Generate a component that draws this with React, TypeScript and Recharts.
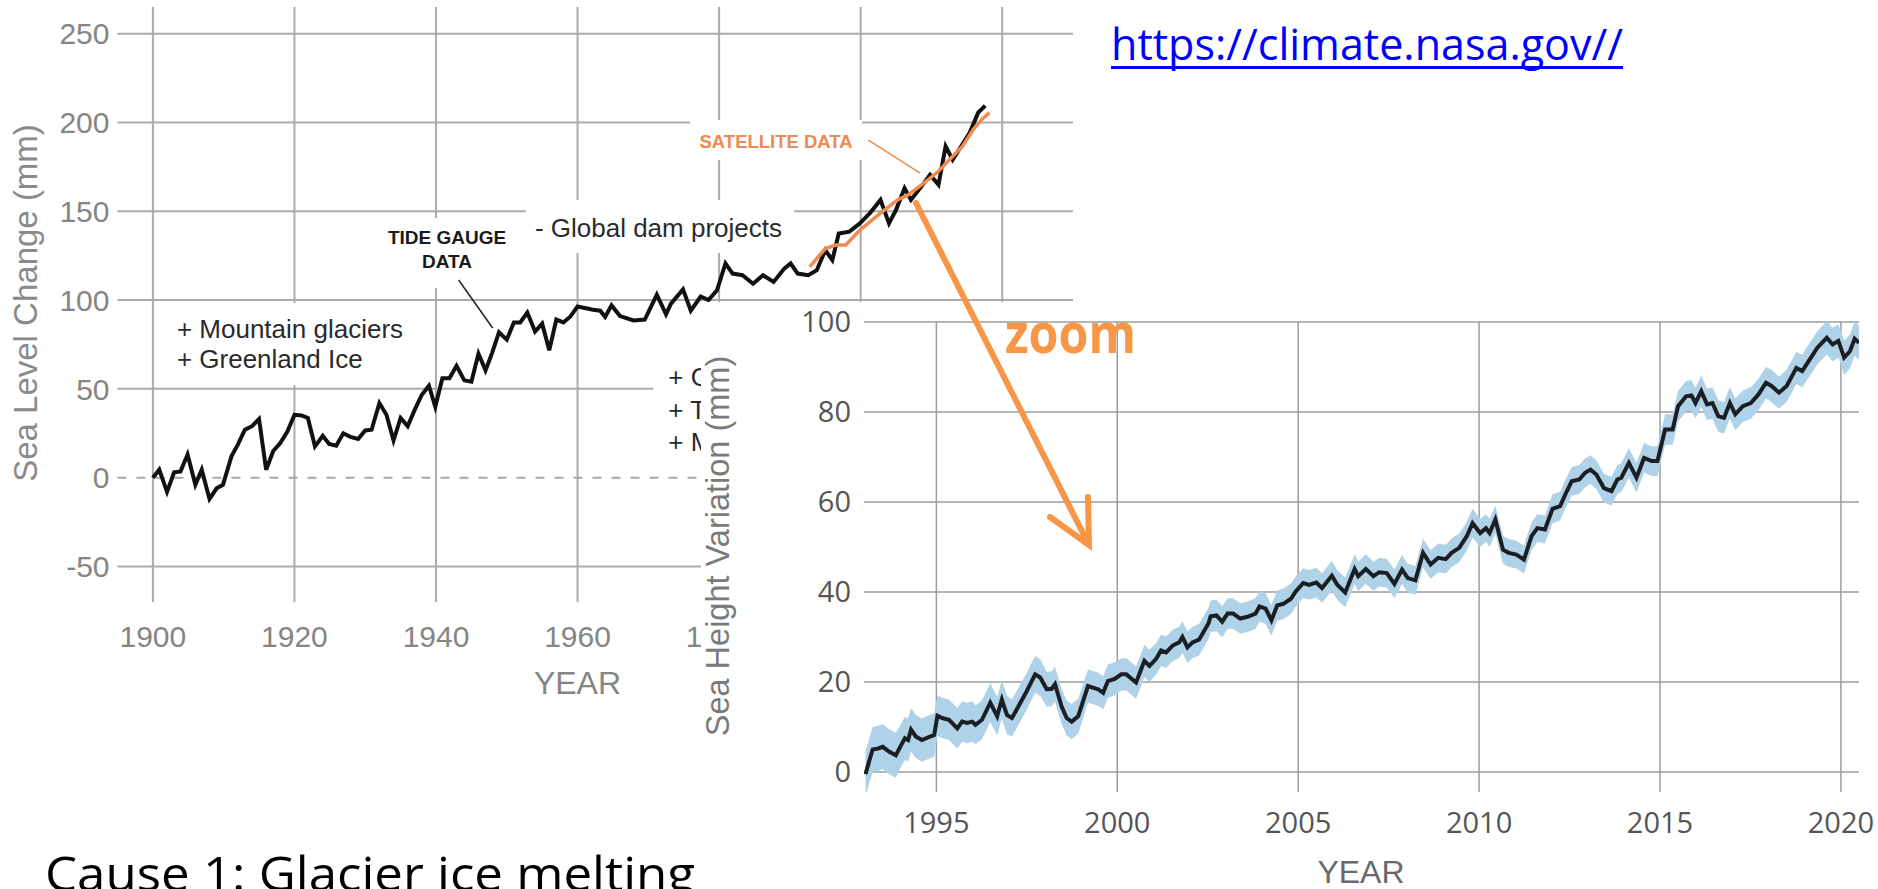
import {
  LineChart, ComposedChart, Line, Area, XAxis, YAxis, CartesianGrid,
  ReferenceArea, ReferenceLine,
} from "recharts";

// Tide gauge record (mm, relative to 1900)
const tideYears = [
  1900, 1900.9, 1902, 1903, 1903.9, 1904.9, 1906, 1906.9, 1908, 1909,
  1909.9, 1911.1, 1912, 1913, 1914, 1915, 1916, 1917, 1918, 1919,
  1920, 1921, 1921.9, 1922.9, 1924, 1924.9, 1925.9, 1926.9, 1927.9, 1929,
  1930, 1930.9, 1932, 1933, 1934, 1935, 1936, 1937, 1938, 1939,
  1939.9, 1940.9, 1941.9, 1942.9, 1944, 1945, 1946, 1947, 1947.9, 1948.9,
  1950, 1951, 1951.9, 1952.9, 1954, 1955, 1956, 1957, 1958, 1959,
  1960, 1961, 1962.2, 1963.2, 1963.9, 1964.8, 1966, 1967.9, 1969.5, 1971.2,
  1972.5, 1973.2, 1974.9, 1976, 1977.4, 1978.5, 1979.7, 1980.9, 1981.9, 1983.3,
  1984.8, 1986.2, 1987.7, 1989.2, 1990.1, 1991.1, 1992.6, 1993.8, 1995, 1996,
  1996.9, 1998.4, 1999.9, 2001.3, 2002.8, 2004, 2005, 2006.2, 2007.1, 2008.6,
  2009.8, 2011, 2012, 2013, 2014.2, 2015.4, 2016.6, 2017.6,
];
const tideMm = [
  0, 4.5, -8, 3, 3.5, 13, -4, 4.5, -12, -6,
  -4, 12, 18.6, 27, 29, 33, 4.5, 15, 19.5, 26,
  35.4, 35, 33.6, 17.6, 23.6, 19, 18, 25, 23, 21.8,
  26.6, 27, 42, 35.4, 21, 33.6, 29, 38.3, 46.7, 51.8,
  40, 56, 56, 63, 54.8, 54, 69.8, 60.4, 70, 81.8,
  77.7, 87.4, 87.4, 93, 82.3, 86.7, 71.7, 89, 87.4, 90.8,
  96.4, 95.5, 94.5, 94, 90.5, 97, 91, 88.5, 89, 103,
  92, 98, 106, 94, 102, 100, 105.5, 120.6, 114.9, 114,
  109.2, 114, 110.2, 117.7, 120.6, 114.9, 114, 116.8, 128.1, 122.5,
  137.5, 138.5, 143.2, 148.9, 156.4, 143.2, 150.8, 163, 156.4, 164,
  170.6, 164.9, 186.6, 179, 186.6, 194.2, 205.5, 209.5,
];

// Satellite trace on the long-term chart
const altYears = [1992.8, 1995, 1996.5, 1997.9, 1999.9, 2001.3, 2002.8, 2005.2, 2006.7, 2008.6, 2009.8, 2011, 2013, 2014.4, 2015.9, 2017.1, 2018.2];
const altMm = [118.7, 129, 131, 131, 139.4, 144, 148.9, 156.4, 159.2, 164.9, 168.7, 172.5, 181, 186.6, 196, 201.7, 205.5];

// Satellite sea height variation, 1993-2020 (mm)
const satYears = [
  1993.04, 1993.15, 1993.24, 1993.38, 1993.52, 1993.70, 1993.88, 1994.00, 1994.13, 1994.22,
  1994.30, 1994.43, 1994.60, 1994.84, 1994.94, 1995.03, 1995.16, 1995.35, 1995.58, 1995.71,
  1995.85, 1995.99, 1996.08, 1996.26, 1996.49, 1996.68, 1996.81, 1996.95, 1997.09, 1997.27,
  1997.50, 1997.73, 1997.87, 1998.05, 1998.19, 1998.28, 1998.46, 1998.60, 1998.74, 1998.92,
  1999.19, 1999.47, 1999.61, 1999.74, 1999.93, 2000.11, 2000.25, 2000.52, 2000.75, 2000.89,
  2001.07, 2001.21, 2001.35, 2001.53, 2001.71, 2001.80, 2001.94, 2002.08, 2002.26, 2002.52,
  2002.58, 2002.74, 2002.90, 2003.05, 2003.20, 2003.40, 2003.60, 2003.82, 2003.93, 2004.10,
  2004.26, 2004.42, 2004.60, 2004.80, 2004.93, 2005.14, 2005.30, 2005.50, 2005.66, 2005.93,
  2006.08, 2006.30, 2006.56, 2006.66, 2006.87, 2007.08, 2007.24, 2007.45, 2007.66, 2007.87,
  2008.03, 2008.24, 2008.45, 2008.66, 2008.87, 2009.08, 2009.24, 2009.45, 2009.66, 2009.82,
  2010.03, 2010.19, 2010.29, 2010.45, 2010.66, 2010.82, 2011.03, 2011.24, 2011.45, 2011.61,
  2011.82, 2012.03, 2012.24, 2012.40, 2012.56, 2012.77, 2012.93, 2013.08, 2013.24, 2013.45,
  2013.66, 2013.82, 2013.93, 2014.14, 2014.35, 2014.56, 2014.77, 2014.93, 2015.14, 2015.35,
  2015.50, 2015.72, 2015.87, 2015.98, 2016.14, 2016.30, 2016.45, 2016.61, 2016.77, 2016.93,
  2017.08, 2017.29, 2017.51, 2017.72, 2017.93, 2018.08, 2018.29, 2018.50, 2018.77, 2018.93,
  2019.14, 2019.35, 2019.61, 2019.77, 2019.93, 2020.09, 2020.25, 2020.38, 2020.5,
];
const satMm = [
  -0.5, 2.6, 5.0, 5.2, 5.6, 4.5, 3.7, 5.6, 7.5, 7.1,
  9.4, 7.9, 7.1, 7.9, 8.2, 12.5, 12.0, 11.6, 9.7, 11.2,
  10.9, 11.2, 10.5, 11.6, 15.4, 12.4, 16.1, 12.7, 12.0, 14.6,
  18.0, 21.7, 21.0, 18.4, 18.5, 19.5, 14.6, 12.0, 11.2, 12.4,
  19.1, 18.4, 17.6, 20.2, 20.7, 21.7, 21.7, 19.9, 24.7, 23.6,
  25.1, 27.0, 26.6, 28.1, 28.8, 30.0, 27.7, 28.8, 29.4, 33.0,
  34.6, 34.8, 33.4, 35.2, 35.2, 34.1, 34.5, 35.2, 36.8, 36.3,
  33.7, 37.0, 37.4, 38.5, 40.1, 42.0, 41.6, 42.1, 40.9, 43.6,
  41.6, 39.9, 45.1, 43.5, 45.1, 43.5, 44.4, 44.2, 41.8, 45.0,
  43.1, 42.6, 48.7, 46.1, 47.6, 47.3, 48.7, 49.8, 52.4, 55.3,
  53.1, 54.2, 53.1, 56.1, 49.4, 48.7, 48.3, 47.2, 52.4, 54.2,
  53.9, 58.5, 59.1, 62.0, 64.6, 65.0, 66.5, 67.2, 66.1, 63.1,
  62.4, 65.0, 65.4, 68.7, 65.4, 69.8, 69.1, 69.1, 76.1, 76.1,
  81.3, 83.5, 83.7, 82.0, 84.6, 81.7, 82.0, 79.1, 78.7, 82.0,
  79.5, 81.3, 82.0, 83.9, 86.5, 85.8, 84.3, 85.8, 89.8, 89.1,
  91.7, 94.3, 96.5, 95.0, 95.8, 92.1, 93.5, 96.3, 95.4,
];

// Uncertainty half-width per calendar year (mm)
const bandStartYear = 1993;
const bandHalfMm = [5.0, 4.8, 4.5, 4.3, 4.1, 3.9, 3.7, 3.6, 3.5, 3.5, 3.4, 3.4, 3.3, 3.3, 3.2, 3.2, 3.2, 3.1, 3.1, 3.2, 3.2, 3.3, 3.4, 3.5, 3.5, 3.6, 3.7, 3.8];

const longYearTicks = [1900, 1920, 1940, 1960, 1980, 2000, 2020];
const longMmTicks = [-50, 0, 50, 100, 150, 200, 250];
const longGridMm = [-50, 50, 100, 150, 200, 250];
const zoomYearTicks = [1995, 2000, 2005, 2010, 2015, 2020];
const zoomMmTicks = [0, 20, 40, 60, 80, 100];

const tideData = tideYears.map((year, i) => ({ year, mm: tideMm[i] }));
const altData = altYears.map((year, i) => ({ year, mm: altMm[i] }));
const zoomData = satYears.map((year, i) => {
  const half = bandHalfMm[Math.min(bandHalfMm.length - 1, Math.floor(year) - bandStartYear)];
  return { year, mm: satMm[i], band: [satMm[i] - half, satMm[i] + half] };
});

const HELV = "'Liberation Sans', Arial, sans-serif";
const OPEN = "'Open Sans', sans-serif";
const ORANGE = "#F79646";

const longTick = { fontFamily: HELV, fontSize: 30, fill: "#858585" };
const zoomTick = { fontFamily: OPEN, fontSize: 29, fill: "#555555" };

// text inside a white annotation box, offsets relative to the box corner
function boxText(lines: { text: string; dx: number; dy: number }[], style: any, anchor = "start") {
  return (props: any) => {
    const vb = props.viewBox || {};
    return (
      <g>
        {lines.map((l) => (
          <text key={l.text} x={vb.x + l.dx} y={vb.y + l.dy} textAnchor={anchor}
            dominantBaseline="central" style={style}>
            {l.text}
          </text>
        ))}
      </g>
    );
  };
}

function axisTitle(text: string, dx: number, dy: number, rotate: boolean, style: any) {
  return (props: any) => {
    const vb = props.viewBox || {};
    const x = vb.x + dx;
    const y = vb.y + dy;
    return (
      <text x={x} y={y} textAnchor="middle" dominantBaseline="central"
        transform={rotate ? `rotate(-90 ${x} ${y})` : undefined} style={style}>
        {text}
      </text>
    );
  };
}

const noteStyle = { fontFamily: HELV, fontSize: 26, fill: "#2a2a2a" };

function LongTermChart() {
  return (
    <LineChart width={1100} height={700} margin={{ top: 7, right: 27, bottom: 0, left: 0 }}>
      <CartesianGrid stroke="#ababab" strokeWidth={2} horizontalValues={longGridMm} verticalValues={longYearTicks} />
      <XAxis dataKey="year" type="number" domain={[1895, 2030]} ticks={longYearTicks} interval={0}
        allowDataOverflow axisLine={false} tickLine={false} tickSize={0} tickMargin={24} height={98}
        tick={longTick}
        label={axisTitle("YEAR", 460, 81, false, { fontFamily: HELV, fontSize: 32, fill: "#858585" })} />
      <YAxis type="number" domain={[-70, 265]} ticks={longMmTicks} interval={0} allowDataOverflow
        axisLine={false} tickLine={false} tickSize={0} tickMargin={8} width={117.5} tick={longTick}
        label={axisTitle("Sea Level Change (mm)", 25, 296, true, { fontFamily: HELV, fontSize: 33, fill: "#8a8a8a" })} />
      <ReferenceLine y={0} stroke="#a8a8a8" strokeWidth={2} strokeDasharray="9 10" />

      <ReferenceArea x1={1932.8} x2={1950.4} y1={106.8} y2={146.2} fill="#fff" fillOpacity={1} stroke="none"
        label={boxText([{ text: "TIDE GAUGE", dx: 62, dy: 19 }, { text: "DATA", dx: 62, dy: 43 }],
          { fontFamily: HELV, fontSize: 19, fontWeight: 700, fill: "#1a1a1a" }, "middle")} />
      <ReferenceArea x1={1952.7} x2={1990.6} y1={126.5} y2={156.3} fill="#fff" fillOpacity={1} stroke="none"
        label={boxText([{ text: "- Global dam projects", dx: 9, dy: 28 }], noteStyle)} />
      <ReferenceArea x1={1901.7} x2={1937} y1={52.2} y2={98.3} fill="#fff" fillOpacity={1} stroke="none"
        label={boxText([{ text: "+ Mountain glaciers", dx: 12, dy: 26 }, { text: "+ Greenland Ice", dx: 12, dy: 56 }], noteStyle)} />
      <ReferenceArea x1={1970.7} x2={1978.7} y1={9.9} y2={67.9} fill="#fff" fillOpacity={1} stroke="none"
        label={boxText([{ text: "+ G", dx: 15, dy: 20 }, { text: "+ T", dx: 15, dy: 53 }, { text: "+ M", dx: 15, dy: 85 }], noteStyle)} />
      <ReferenceArea x1={1975.9} x2={2000.2} y1={178.9} y2={201.4} fill="#fff" fillOpacity={1} stroke="none"
        label={boxText([{ text: "SATELLITE DATA", dx: 86, dy: 22 }],
          { fontFamily: HELV, fontSize: 18.5, fontWeight: 700, fill: "#ec8a50" }, "middle")} />

      <ReferenceLine segment={[{ x: 1943.2, y: 111.3 }, { x: 1948.0, y: 84.3 }]} stroke="#222" strokeWidth={1.5} />
      <ReferenceLine segment={[{ x: 2001.1, y: 190.1 }, { x: 2008.4, y: 171.5 }]} stroke="#ec8a50" strokeWidth={1.5} />

      <Line data={tideData} dataKey="mm" type="linear" stroke="#111" strokeWidth={4}
        strokeLinejoin="miter" dot={false} isAnimationActive={false} />
      <Line data={altData} dataKey="mm" type="linear" stroke="#f08c4f" strokeWidth={3.5}
        dot={false} isAnimationActive={false} />
    </LineChart>
  );
}

function ZoomChart() {
  return (
    <ComposedChart width={1177} height={587} data={zoomData} margin={{ top: 20, right: 19, bottom: 0, left: 0 }}>
      <CartesianGrid stroke="#9c9c9c" strokeWidth={1.5} horizontalValues={zoomMmTicks} verticalValues={zoomYearTicks} />
      <XAxis dataKey="year" type="number" domain={[1993, 2020.5]} ticks={zoomYearTicks} interval={0}
        allowDataOverflow axisLine={false} tickLine={false} tickSize={0} tickMargin={20} height={97}
        tick={zoomTick}
        label={axisTitle("YEAR", 497, 80, false, { fontFamily: HELV, fontSize: 32, fill: "#6a6a6a" })} />
      <YAxis type="number" domain={[-4.44, 100]} ticks={zoomMmTicks} interval={0} allowDataOverflow
        axisLine={false} tickLine={false} tickSize={0} tickMargin={13} width={163} tick={zoomTick}
        label={axisTitle("Sea Height Variation (mm)", 16.5, 224, true, { fontFamily: HELV, fontSize: 32.5, fill: "#7a7a7a" })} />
      <Area dataKey="band" type="linear" fill="#b0d2e8" fillOpacity={1} stroke="none" isAnimationActive={false} />
      <Line dataKey="mm" type="linear" stroke="#1b1f24" strokeWidth={4} dot={false} isAnimationActive={false} />
    </ComposedChart>
  );
}

export default function App() {
  return (
    <div style={{ position: "relative", width: 1878, height: 889, overflow: "hidden", background: "#fff" }}>
      <style>{"html,body{margin:0;padding:0;overflow:hidden;background:#fff}"}</style>
      <div style={{ position: "absolute", left: 0, top: 0 }}>
        <LongTermChart />
      </div>
      <div style={{ position: "absolute", left: 701, top: 302, width: 1177, height: 587, background: "#fff" }}>
        <ZoomChart />
      </div>
      <svg width={1878} height={889} style={{ position: "absolute", left: 0, top: 0, pointerEvents: "none" }}>
        <text x={1111} y={60} textLength={512} lengthAdjust="spacingAndGlyphs"
          style={{ fontFamily: OPEN, fontSize: 43, fill: "#0000ff" }}>
          https://climate.nasa.gov//
        </text>
        <line x1={1111} x2={1623} y1={67.5} y2={67.5} stroke="#0000ff" strokeWidth={3} />
        <text x={1005} y={353} textLength={131} lengthAdjust="spacingAndGlyphs"
          style={{ fontFamily: OPEN, fontSize: 56, fontWeight: 700, fill: ORANGE }}>
          zoom
        </text>
        <g stroke={ORANGE} strokeWidth={6} strokeLinecap="round" fill="none">
          <line x1={916} y1={203} x2={1089} y2={545} />
          <polyline points="1050,517 1089,545 1088,497" strokeLinejoin="miter" />
        </g>
        <text x={45} y={891} textLength={650} lengthAdjust="spacingAndGlyphs"
          style={{ fontFamily: OPEN, fontSize: 48, fill: "#000" }}>
          Cause 1: Glacier ice melting
        </text>
      </svg>
    </div>
  );
}
